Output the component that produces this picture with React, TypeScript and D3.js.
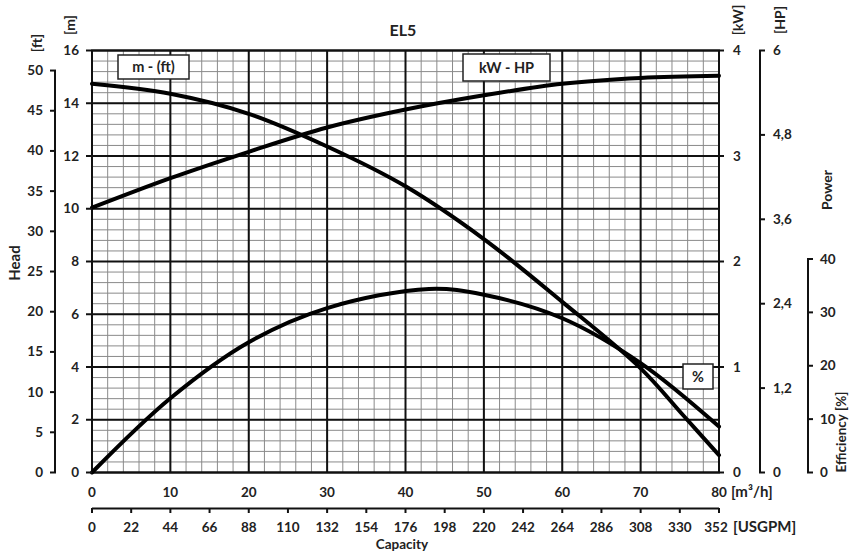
import React from "react";
import * as d3 from "d3";

const flow = [0, 10, 20, 30, 40, 50, 60, 70, 75.4, 80];
const head = [14.74, 14.36, 13.6, 12.36, 10.85, 8.85, 6.47, 3.95, 2.18, 0.66];
const powerFlow = [0, 10, 20, 30, 40, 50, 60, 70, 80];
const power = [2.51, 2.79, 3.04, 3.27, 3.44, 3.575, 3.685, 3.74, 3.76];
const effFlow = [0, 10, 20, 30, 43, 50, 60, 70, 80];
const eff = [0, 13.9, 24.4, 30.8, 34.4, 33.3, 28.9, 20.5, 8.6];

const m3hTicks = [0, 10, 20, 30, 40, 50, 60, 70, 80];
const gpmTicks = [0, 22, 44, 66, 88, 110, 132, 154, 176, 198, 220, 242, 264, 286, 308, 330, 352];
const mTicks = [0, 2, 4, 6, 8, 10, 12, 14, 16];
const ftTicks = [0, 5, 10, 15, 20, 25, 30, 35, 40, 45, 50];
const kwTicks = [0, 1, 2, 3, 4];
const hpTicks = [0, 1.2, 2.4, 3.6, 4.8, 6];
const hpLabels = ["0", "1,2", "2,4", "3,6", "4,8", "6"];
const effTicks = [0, 10, 20, 30, 40];

const FONT = "Lato, 'Open Sans', sans-serif";

export default function App() {
  const L = 92, R = 719, T = 50.5, B = 472.5;
  const x = d3.scaleLinear().domain([0, 80]).range([L, R]);
  const xg = d3.scaleLinear().domain([0, 352]).range([L, R]);
  const yM = d3.scaleLinear().domain([0, 16]).range([B, T]);
  const yFt = d3.scaleLinear().domain([0, 16 * 3.28084]).range([B, T]);
  const yKW = d3.scaleLinear().domain([0, 4]).range([B, T]);
  const yHP = d3.scaleLinear().domain([0, 6]).range([B, T]);
  const yEff = d3.scaleLinear().domain([0, 40]).range([B, 259]);

  const minorX = d3.range(0, 80.001, 2);
  const minorY = d3.range(0, 16.001, 0.4);
  const majorX = d3.range(0, 80.001, 10);
  const majorY = d3.range(0, 16.001, 2);

  const curve = d3.curveCatmullRom.alpha(0.5);
  const headLine = d3.line<number>().x((_, i) => x(flow[i])).y((d) => yM(d)).curve(curve)(head) || "";
  const powerLine = d3.line<number>().x((_, i) => x(powerFlow[i])).y((d) => yKW(d)).curve(curve)(power) || "";
  const effLine = d3.line<number>().x((_, i) => x(effFlow[i])).y((d) => yEff(d)).curve(curve)(eff) || "";

  const tickStyle = { fontFamily: FONT, fontWeight: 700, fontSize: 13.5, fill: "#222" } as const;
  const labelStyle = { fontFamily: FONT, fontWeight: 700, fontSize: 14, fill: "#222" } as const;
  const hpX = 760, effX = 808, ftX = 55;

  return (
    <svg width={850} height={552} style={{ position: "absolute", left: 0, top: 0, background: "#fff" }}>
      <rect x={0} y={0} width={850} height={552} fill="#fff" />
      {/* minor grid */}
      <g stroke="#8a8a8a" strokeWidth={1}>
        {minorX.map((v) => (
          <line key={"mx" + v} x1={x(v)} x2={x(v)} y1={T} y2={B} />
        ))}
        {minorY.map((v) => (
          <line key={"my" + v} x1={L} x2={R} y1={yM(v)} y2={yM(v)} />
        ))}
      </g>
      {/* major grid */}
      <g stroke="#111" strokeWidth={2}>
        {majorX.map((v) => (
          <line key={"Mx" + v} x1={x(v)} x2={x(v)} y1={T} y2={B} />
        ))}
        {majorY.map((v) => (
          <line key={"My" + v} x1={L} x2={R} y1={yM(v)} y2={yM(v)} />
        ))}
      </g>
      <rect x={L} y={T} width={R - L} height={B - T} fill="none" stroke="#111" strokeWidth={2} />

      {/* curves */}
      <g fill="none" stroke="#000" strokeWidth={4} strokeLinecap="round">
        <path d={headLine} />
        <path d={powerLine} />
        <path d={effLine} />
      </g>

      {/* legend boxes */}
      <g fontFamily={FONT} fontWeight={700} fontSize={14.5} fill="#222">
        <rect x={118} y={55} width={71} height={24} fill="#fff" stroke="#222" strokeWidth={1.5} />
        <text x={153.5} y={72} textAnchor="middle">m - (ft)</text>
        <rect x={463} y={54} width={87} height={27} fill="#fff" stroke="#222" strokeWidth={1.5} />
        <text x={506.5} y={72.5} textAnchor="middle">kW - HP</text>
        <rect x={683} y={364} width={30} height={25} fill="#fff" stroke="#222" strokeWidth={1.5} />
        <text x={698} y={381.5} textAnchor="middle">%</text>
      </g>

      {/* left m axis ticks */}
      <g>
        {mTicks.map((v) => (
          <g key={"m" + v}>
            <line x1={86} x2={L} y1={yM(v)} y2={yM(v)} stroke="#111" strokeWidth={2} />
            <text x={79} y={yM(v) + 4.5} textAnchor="end" {...tickStyle}>{v}</text>
          </g>
        ))}
      </g>
      {/* ft axis */}
      <line x1={ftX} x2={ftX} y1={yFt(50)} y2={B} stroke="#111" strokeWidth={2} />
      {ftTicks.map((v) => (
        <g key={"ft" + v}>
          <line x1={ftX - 5} x2={ftX + 1} y1={yFt(v)} y2={yFt(v)} stroke="#111" strokeWidth={2} />
          <text x={43} y={yFt(v) + 4.5} textAnchor="end" {...tickStyle}>{v}</text>
        </g>
      ))}

      {/* kW axis (right edge) */}
      {kwTicks.map((v) => (
        <g key={"kw" + v}>
          <line x1={R} x2={R + 5} y1={yKW(v)} y2={yKW(v)} stroke="#111" strokeWidth={2} />
          <text x={733} y={yKW(v) + 4.5} {...tickStyle}>{v}</text>
        </g>
      ))}
      {/* HP axis */}
      <line x1={hpX} x2={hpX} y1={T} y2={B} stroke="#111" strokeWidth={2} />
      {hpTicks.map((v, i) => (
        <g key={"hp" + v}>
          <line x1={hpX - 1} x2={hpX + 5} y1={yHP(v)} y2={yHP(v)} stroke="#111" strokeWidth={2} />
          <text x={773} y={yHP(v) + 4.5} {...tickStyle}>{hpLabels[i]}</text>
        </g>
      ))}
      {/* Efficiency axis */}
      <line x1={effX} x2={effX} y1={yEff(40)} y2={B} stroke="#111" strokeWidth={2} />
      {effTicks.map((v) => (
        <g key={"ef" + v}>
          <line x1={effX - 1} x2={effX + 5} y1={yEff(v)} y2={yEff(v)} stroke="#111" strokeWidth={2} />
          <text x={820} y={yEff(v) + 4.5} {...tickStyle}>{v}</text>
        </g>
      ))}

      {/* m3/h axis labels */}
      {m3hTicks.map((v) => (
        <text key={"q" + v} x={x(v)} y={497} textAnchor="middle" {...tickStyle}>{v}</text>
      ))}
      <text x={731} y={497} {...labelStyle} fontSize={15}>[m³/h]</text>

      {/* USGPM axis */}
      <line x1={L} x2={R} y1={508.5} y2={508.5} stroke="#111" strokeWidth={2} />
      {gpmTicks.map((v) => (
        <g key={"g" + v}>
          <line x1={xg(v)} x2={xg(v)} y1={508} y2={513} stroke="#111" strokeWidth={2} />
          <text x={v === 352 ? xg(v) - 3 : xg(v)} y={532} textAnchor="middle" {...tickStyle}>{v}</text>
        </g>
      ))}
      <text x={733} y={532} {...labelStyle} fontSize={15}>[USGPM]</text>

      {/* titles */}
      <text x={403} y={36} textAnchor="middle" {...labelStyle} fontSize={16}>EL5</text>
      <text x={402} y={549} textAnchor="middle" {...labelStyle} fontSize={13.5}>Capacity</text>
      <text transform="translate(20,263) rotate(-90)" textAnchor="middle" {...labelStyle} fontSize={15}>Head</text>
      <text transform="translate(832,190) rotate(-90)" textAnchor="middle" {...labelStyle}>Power</text>
      <text transform="translate(846,432) rotate(-90)" textAnchor="middle" {...labelStyle} fontSize={13.5}>Efficiency [%]</text>
      <text transform="translate(42,43) rotate(-90)" textAnchor="middle" {...labelStyle}>[ft]</text>
      <text transform="translate(75,25) rotate(-90)" textAnchor="middle" {...labelStyle}>[m]</text>
      <text transform="translate(743,20) rotate(-90)" textAnchor="middle" {...labelStyle}>[kW]</text>
      <text transform="translate(785,20) rotate(-90)" textAnchor="middle" {...labelStyle}>[HP]</text>
    </svg>
  );
}
